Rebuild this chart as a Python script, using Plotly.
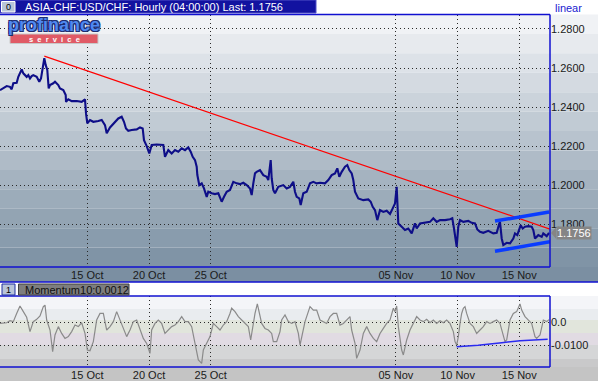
import plotly.graph_objects as go

# ---------------- data (x = trading days from 15 Oct 00:00, weekends removed) ----------------
tick_days = [0, 3, 6, 15, 18, 21]
tick_text = ["15 Oct", "20 Oct", "25 Oct", "05 Nov", "10 Nov", "15 Nov"]

price_t = [-4.244, -4.084, -3.918, -3.758, -3.675, -3.597, -3.432, -3.354, -3.272, -3.189,
           -3.111, -3.029, -2.946, -2.868, -2.786, -2.703, -2.625, -2.460, -2.334, -2.251,
           -2.168, -2.090, -2.022, -1.945, -1.877, -1.813, -1.653, -1.570, -1.410, -1.327,
           -1.167, -1.050, -1.035, -0.924, -0.758, -0.515, -0.272, -0.112, -0.063, 0.000,
           0.131, 0.292, 0.535, 0.700, 0.860, 0.943, 1.104, 1.347, 1.507, 1.672,
           1.784, 1.881, 1.993, 2.158, 2.402, 2.562, 2.693, 2.756, 2.888, 3.014,
           3.131, 3.374, 3.695, 3.777, 3.938, 4.103, 4.263, 4.424, 4.589, 4.750,
           4.910, 5.027, 5.124, 5.236, 5.318, 5.348, 5.445, 5.562, 5.673, 5.805,
           5.882, 6.048, 6.208, 6.369, 6.534, 6.646, 6.777, 6.937, 7.098, 7.263,
           7.423, 7.584, 7.749, 7.910, 7.992, 8.070, 8.153, 8.235, 8.396, 8.556,
           8.721, 8.799, 8.916, 8.965, 9.042, 9.125, 9.285, 9.528, 9.694, 9.854,
           10.015, 10.097, 10.180, 10.306, 10.374, 10.501, 10.666, 10.826, 10.987, 11.152,
           11.313, 11.556, 11.716, 11.881, 12.042, 12.154, 12.251, 12.368, 12.528, 12.640,
           12.737, 12.854, 12.931, 13.014, 13.174, 13.418, 13.661, 13.778, 13.875, 13.986,
           14.098, 14.230, 14.390, 14.555, 14.716, 14.847, 14.959, 15.041, 15.090, 15.119,
           15.284, 15.445, 15.605, 15.771, 15.931, 16.014, 16.174, 16.417, 16.660, 16.821,
           16.986, 17.147, 17.390, 17.632, 17.744, 17.827, 17.876, 17.958, 18.036, 18.119,
           18.279, 18.522, 18.687, 18.848, 18.960, 19.091, 19.251, 19.494, 19.738, 19.903,
           20.029, 20.063, 20.146, 20.224, 20.389, 20.549, 20.710, 20.792, 20.904, 21.001,
           21.070, 21.167, 21.279, 21.439, 21.604, 21.682, 21.765, 21.925, 22.091, 22.168,
           22.334, 22.445]
price_v = [1.2487, 1.2496, 1.2508, 1.2504, 1.2491, 1.2522, 1.2525, 1.2555, 1.2573, 1.2593,
           1.2573, 1.2564, 1.2555, 1.2564, 1.2547, 1.2559, 1.2564, 1.2555, 1.2530, 1.2547,
           1.2590, 1.2650, 1.2615, 1.2590, 1.2496, 1.2513, 1.2522, 1.2530, 1.2513, 1.2496,
           1.2487, 1.2462, 1.2427, 1.2440, 1.2431, 1.2431, 1.2427, 1.2440, 1.2368, 1.2317,
           1.2334, 1.2325, 1.2329, 1.2334, 1.2308, 1.2266, 1.2296, 1.2325, 1.2342, 1.2351,
           1.2325, 1.2291, 1.2279, 1.2283, 1.2286, 1.2296, 1.2291, 1.2231, 1.2201, 1.2163,
           1.2206, 1.2209, 1.2206, 1.2146, 1.2180, 1.2163, 1.2180, 1.2172, 1.2189, 1.2180,
           1.2194, 1.2172, 1.2146, 1.2129, 1.2095, 1.2054, 1.2001, 1.2010, 1.1984, 1.1941,
           1.1967, 1.1959, 1.1955, 1.1959, 1.1916, 1.1941, 1.1967, 1.1976, 1.2018, 1.2010,
           1.2006, 1.2013, 1.2001, 1.1984, 1.1950, 1.2010, 1.2061, 1.2069, 1.2078, 1.2052,
           1.2044, 1.2027, 1.2129, 1.2035, 1.1976, 1.1959, 1.1992, 1.2001, 1.1984, 1.1992,
           1.2018, 1.1967, 1.1941, 1.1933, 1.1899, 1.1959, 1.1967, 1.2010, 1.2018, 1.2010,
           1.2013, 1.2010, 1.2027, 1.2052, 1.2061, 1.2087, 1.2044, 1.2069, 1.2095, 1.2103,
           1.2078, 1.2061, 1.2027, 1.1967, 1.1933, 1.1924, 1.1928, 1.1916, 1.1890, 1.1873,
           1.1822, 1.1873, 1.1864, 1.1870, 1.1853, 1.1882, 1.1907, 1.1992, 1.1864, 1.1805,
           1.1788, 1.1771, 1.1779, 1.1754, 1.1805, 1.1779, 1.1805, 1.1808, 1.1813, 1.1831,
           1.1813, 1.1822, 1.1822, 1.1826, 1.1831, 1.1779, 1.1736, 1.1685, 1.1788, 1.1822,
           1.1813, 1.1818, 1.1808, 1.1805, 1.1774, 1.1762, 1.1757, 1.1767, 1.1754, 1.1757,
           1.1805, 1.1813, 1.1728, 1.1694, 1.1706, 1.1703, 1.1728, 1.1754, 1.1745, 1.1779,
           1.1796, 1.1779, 1.1788, 1.1791, 1.1788, 1.1771, 1.1728, 1.1745, 1.1736, 1.1754,
           1.1740, 1.1756]

trend_t = [-2.090, 22.494]
trend_v = [1.2661, 1.1776]
chan_up_t = [19.82, 22.45]
chan_up_v = [1.1817, 1.1863]
chan_lo_t = [19.82, 22.49]
chan_lo_v = [1.1663, 1.1711]

mom_t = [-4.244, -4.082, -3.920, -3.758, -3.596, -3.434, -3.272, -3.110, -2.948, -2.786,
         -2.624, -2.461, -2.299, -2.137, -2.056, -1.975, -1.813, -1.684, -1.570, -1.408,
         -1.246, -1.084, -0.922, -0.760, -0.598, -0.436, -0.274, -0.112, 0.002, 0.131,
         0.293, 0.455, 0.618, 0.780, 0.942, 1.104, 1.266, 1.428, 1.590, 1.752,
         1.914, 2.076, 2.238, 2.400, 2.562, 2.724, 2.886, 3.048, 3.129, 3.291,
         3.453, 3.615, 3.777, 3.940, 4.102, 4.264, 4.426, 4.588, 4.750, 4.912,
         5.074, 5.236, 5.398, 5.479, 5.560, 5.641, 5.803, 5.965, 6.046, 6.127,
         6.289, 6.451, 6.613, 6.775, 6.937, 7.018, 7.180, 7.343, 7.505, 7.667,
         7.829, 7.942, 8.039, 8.153, 8.266, 8.363, 8.477, 8.639, 8.801, 8.963,
         9.044, 9.206, 9.368, 9.449, 9.611, 9.773, 9.935, 10.097, 10.260, 10.341,
         10.422, 10.584, 10.746, 10.827, 10.989, 11.151, 11.313, 11.475, 11.637, 11.799,
         11.961, 12.123, 12.285, 12.447, 12.609, 12.771, 12.852, 12.933, 13.014, 13.095,
         13.257, 13.419, 13.582, 13.744, 13.906, 14.068, 14.230, 14.392, 14.554, 14.716,
         14.878, 14.959, 15.040, 15.121, 15.202, 15.283, 15.364, 15.445, 15.526, 15.688,
         15.850, 16.012, 16.174, 16.336, 16.498, 16.660, 16.822, 16.984, 17.146, 17.308,
         17.470, 17.632, 17.795, 17.876, 17.957, 18.038, 18.119, 18.200, 18.281, 18.362,
         18.443, 18.605, 18.767, 18.929, 19.091, 19.253, 19.415, 19.577, 19.739, 19.901,
         20.063, 20.225, 20.306, 20.387, 20.549, 20.711, 20.873, 21.036, 21.117, 21.279,
         21.441, 21.603, 21.765, 21.846, 22.008, 22.089, 22.170, 22.332, 22.445]
mom_v = [-0.0005, -0.0002, -0.0002, 0.0007, 0.0003, 0.0039, 0.0072, 0.0047, 0.0022, -0.0041,
         0.0003, 0.0013, 0.0028, 0.0069, 0.0076, 0.0010, -0.0034, -0.0129, -0.0056, -0.0019,
         -0.0049, -0.0071, -0.0063, -0.0041, -0.0012, -0.0019, -0.0002, -0.0049, -0.0122, -0.0125,
         -0.0085, 0.0010, 0.0039, 0.0039, -0.0034, -0.0019, 0.0003, 0.0047, 0.0010, -0.0034,
         -0.0063, -0.0034, 0.0003, 0.0010, -0.0034, -0.0071, -0.0093, -0.0137, -0.0034, -0.0005,
         0.0010, -0.0005, -0.0049, -0.0034, -0.0019, -0.0012, 0.0003, 0.0025, 0.0003, 0.0003,
         -0.0019, -0.0093, -0.0166, -0.0173, -0.0181, -0.0122, -0.0093, -0.0063, -0.0034, -0.0005,
         -0.0019, -0.0034, -0.0012, 0.0003, 0.0039, 0.0062, 0.0047, 0.0025, 0.0010, -0.0005,
         -0.0019, -0.0078, -0.0019, 0.0039, 0.0081, 0.0039, -0.0005, -0.0027, -0.0034, -0.0049,
         -0.0085, -0.0085, -0.0041, 0.0010, 0.0032, 0.0003, -0.0005, 0.0003, -0.0049, -0.0100,
         -0.0063, 0.0003, 0.0047, 0.0069, 0.0054, 0.0054, 0.0010, 0.0003, -0.0005, 0.0025,
         0.0039, 0.0039, -0.0012, -0.0005, 0.0010, 0.0025, -0.0034, -0.0063, -0.0093, -0.0159,
         -0.0122, -0.0049, -0.0019, -0.0049, -0.0071, -0.0085, -0.0049, -0.0027, -0.0005, 0.0010,
         0.0062, 0.0047, 0.0072, -0.0019, -0.0071, -0.0122, -0.0144, -0.0107, -0.0078, -0.0034,
         -0.0005, 0.0025, 0.0010, 0.0003, 0.0013, -0.0002, 0.0010, -0.0005, 0.0007, -0.0002,
         0.0010, -0.0005, -0.0041, -0.0085, -0.0100, -0.0063, -0.0005, 0.0039, 0.0062, 0.0069,
         0.0039, -0.0005, -0.0019, -0.0049, -0.0034, -0.0019, 0.0003, -0.0005, 0.0003, 0.0010,
         -0.0005, -0.0056, -0.0085, -0.0078, 0.0010, 0.0039, 0.0047, 0.0081, 0.0054, 0.0025,
         0.0010, -0.0005, -0.0063, -0.0071, -0.0056, -0.0019, 0.0010, 0.0003, 0.0012]

mom_line_t = [17.958, 19.000, 20.150, 21.040, 22.380]
mom_line_v = [-0.01075, -0.0101, -0.0090, -0.0081, -0.0075]

price_ticks = [1.18, 1.20, 1.22, 1.24, 1.26, 1.28]
mom_ticks = [0.0, -0.01]
mom_tick_text = ["0.0", "-0.0100"]
last_price = 1.1756
title_text = "ASIA-CHF:USD/CHF: Hourly (04:00:00) Last: 1.1756"
mom_label = "Momentum10:0.0012"

# ---------------- layout helpers ----------------
W, H = 598, 381
def px(x):
    return x / W
def py(y):
    return 1 - y / H

PLOT_R = 550
MAIN_T, MAIN_B = 14.5, 267
MOM_T, MOM_B = 296, 367
FONT = "Liberation Sans"

fig = go.Figure()
fig.add_trace(go.Scatter(x=trend_t, y=trend_v, mode="lines", line=dict(color="#ff0000", width=1.2),
                         xaxis="x", yaxis="y", hoverinfo="skip"))
fig.add_trace(go.Scatter(x=price_t, y=price_v, mode="lines", line=dict(color="#0e0e88", width=2.1),
                         xaxis="x", yaxis="y", hoverinfo="skip"))
for tt, vv in [(chan_up_t, chan_up_v), (chan_lo_t, chan_lo_v)]:
    fig.add_trace(go.Scatter(x=tt, y=vv, mode="lines", line=dict(color="#0a3cff", width=3.5),
                             xaxis="x", yaxis="y", hoverinfo="skip"))
fig.add_trace(go.Scatter(x=mom_t, y=mom_v, mode="lines", line=dict(color="#8a8a8a", width=1.2),
                         xaxis="x2", yaxis="y2", hoverinfo="skip"))
fig.add_trace(go.Scatter(x=mom_line_t, y=mom_line_v, mode="lines", line=dict(color="#2a2af0", width=1.5),
                         xaxis="x2", yaxis="y2", hoverinfo="skip"))

shapes = []
# main background bands
n = 13
c0 = (240, 242, 245)
c1 = (128, 148, 166)
h = (MAIN_B - MAIN_T) / n
for i in range(n):
    f = i / (n - 1)
    col = "rgb(%d,%d,%d)" % tuple(round(c0[k] + (c1[k] - c0[k]) * f) for k in range(3))
    shapes.append(dict(type="rect", xref="paper", yref="paper", x0=0, x1=1,
                       y0=py(MAIN_T + (i + 1) * h), y1=py(MAIN_T + i * h),
                       fillcolor=col, line=dict(width=0), layer="below"))
# main x-axis strip
shapes.append(dict(type="rect", xref="paper", yref="paper", x0=0, x1=1, y0=py(282), y1=py(MAIN_B),
                   fillcolor="#7b8fa2", line=dict(width=0), layer="below"))
# momentum bands
mom_bands = [(296, 309, "#f4f5f8"), (309, 320, "#e9ecef"), (320, 333, "#e1e5dc"),
             (333, 345, "#e1dbe3"), (345, 359, "#d5d6d7"), (359, 367, "#c9c9ca"),
             (367, 381, "#c4c4c4")]
for a, b, col in mom_bands:
    shapes.append(dict(type="rect", xref="paper", yref="paper", x0=0, x1=1, y0=py(b), y1=py(a),
                       fillcolor=col, line=dict(width=0), layer="below"))
# title bar
shapes.append(dict(type="rect", xref="paper", yref="paper", x0=0, x1=px(316), y0=py(13), y1=1,
                   fillcolor="#1212a0", line=dict(color="#5050c8", width=1), layer="below"))
shapes.append(dict(type="rect", xref="paper", yref="paper", x0=px(1.5), x1=px(15), y0=py(12), y1=py(1.5),
                   fillcolor="#b8c4d8", line=dict(color="#ffffff", width=1), layer="above"))
# plot borders
blue = "#1010d0"
for y in (MAIN_T, MAIN_B, MOM_T, MOM_B):
    shapes.append(dict(type="line", xref="paper", yref="paper", x0=0, x1=px(PLOT_R), y0=py(y), y1=py(y),
                       line=dict(color=blue, width=1.5), layer="above"))
shapes.append(dict(type="line", xref="paper", yref="paper", x0=px(PLOT_R), x1=px(PLOT_R),
                   y0=py(MAIN_B), y1=py(MAIN_T), line=dict(color=blue, width=1.5), layer="above"))
shapes.append(dict(type="line", xref="paper", yref="paper", x0=px(PLOT_R), x1=px(PLOT_R),
                   y0=py(MOM_B), y1=py(MOM_T), line=dict(color=blue, width=1.5), layer="above"))
# white strip between panels
shapes.append(dict(type="rect", xref="paper", yref="paper", x0=0, x1=1, y0=py(MOM_T), y1=py(282),
                   fillcolor="#ffffff", line=dict(width=0), layer="below"))
shapes.append(dict(type="line", xref="paper", yref="paper", x0=0, x1=1, y0=py(282), y1=py(282),
                   line=dict(color=blue, width=1.5), layer="above"))
shapes.append(dict(type="rect", xref="paper", yref="paper", x0=px(2), x1=px(15), y0=py(295), y1=py(284),
                   fillcolor="#b8c4d8", line=dict(color="#2030a0", width=1), layer="above"))
shapes.append(dict(type="rect", xref="paper", yref="paper", x0=px(18.5), x1=px(129), y0=py(295), y1=py(284),
                   fillcolor="#7e7e7e", line=dict(color="#404040", width=1), layer="above"))
# logo service bar
shapes.append(dict(type="rect", xref="paper", yref="paper", x0=px(10), x1=px(98), y0=py(43.5), y1=py(34),
                   fillcolor="#e05a66", line=dict(color="#c8c8c8", width=1), layer="above"))
# last price pointer
shapes.append(dict(type="path", xref="paper", yref="y",
                   path="M %f,%f L %f,%f L %f,%f Z" % (px(PLOT_R + 1), last_price, px(556), last_price + 0.0030,
                                                       px(556), last_price - 0.0030),
                   fillcolor="#858585", line=dict(width=0), layer="above"))

logo_font = dict(family=FONT, size=18, color="#4f88f0")
try:
    go.layout.annotation.Font(shadow="1px 1px 0px #1c2c70")
    logo_font["shadow"] = "1px 1px 0px #1c2c70, -1px -1px 0px #1c2c70, 1px -1px 0px #1c2c70, -1px 1px 0px #1c2c70"
except Exception:
    pass

annotations = [
    dict(x=px(23), y=py(6.5), xref="paper", yref="paper", text=title_text, showarrow=False,
         xanchor="left", yanchor="middle", font=dict(family=FONT, size=11, color="#ffffff")),
    dict(x=px(8.3), y=py(6.8), xref="paper", yref="paper", text="0", showarrow=False,
         xanchor="center", yanchor="middle", font=dict(family=FONT, size=9, color="#000000")),
    dict(x=px(568), y=py(8), xref="paper", yref="paper", text="linear", showarrow=False,
         xanchor="center", yanchor="middle", font=dict(family=FONT, size=11, color="#1a1ad0")),
    dict(x=px(54), y=py(24.8), xref="paper", yref="paper", text="<b>profinance</b>", showarrow=False,
         xanchor="center", yanchor="middle", font=logo_font),
    dict(x=px(54), y=py(39.2), xref="paper", yref="paper", text="<b>s  e  r  v  i  c  e</b>", showarrow=False,
         xanchor="center", yanchor="middle", font=dict(family=FONT, size=7.5, color="#ffffff")),
    dict(x=px(556), y=last_price, xref="paper", yref="y", text="1.1756", showarrow=False,
         xanchor="left", yanchor="middle", bgcolor="#858585", borderpad=0,
         font=dict(family=FONT, size=11, color="#ffffff")),
    dict(x=px(8.5), y=py(289.5), xref="paper", yref="paper", text="1", showarrow=False,
         xanchor="center", yanchor="middle", font=dict(family=FONT, size=9, color="#000000")),
    dict(x=px(23), y=py(289.8), xref="paper", yref="paper", text=mom_label, showarrow=False,
         xanchor="left", yanchor="middle", font=dict(family=FONT, size=11, color="#101010")),
]

grid = dict(showgrid=True, gridcolor="#2a2a2a", gridwidth=1, griddash="1px,3px",
            zeroline=False, showline=False, ticks="")
tickfont = dict(family=FONT, size=11, color="#1a1a1a")
xr = [-4.244, 22.494]

fig.update_layout(
    width=W, height=H, autosize=False,
    margin=dict(l=0, r=0, t=0, b=0, pad=0),
    paper_bgcolor="#ffffff", plot_bgcolor="rgba(0,0,0,0)",
    showlegend=False,
    xaxis=dict(domain=[0, px(PLOT_R)], range=xr, anchor="y", tickvals=tick_days, ticktext=tick_text,
               tickfont=tickfont, **grid),
    xaxis2=dict(domain=[0, px(PLOT_R)], range=xr, anchor="y2", tickvals=tick_days, ticktext=tick_text,
                tickfont=tickfont, **grid),
    yaxis=dict(domain=[py(MAIN_B), py(MAIN_T)], range=[1.1582, 1.2874], side="right", anchor="x",
               tickvals=price_ticks, ticktext=["%.4f" % v for v in price_ticks], tickfont=tickfont, **grid),
    yaxis2=dict(domain=[py(MOM_B), py(MOM_T)], range=[-0.01969, 0.01159], side="right", anchor="x2",
                tickvals=mom_ticks, ticktext=mom_tick_text, tickfont=tickfont, **grid),
    shapes=shapes, annotations=annotations,
)

fig.write_html("out.html", config={"displayModeBar": False},
               post_script="document.body.style.margin='0px';document.body.style.overflow='hidden';")
